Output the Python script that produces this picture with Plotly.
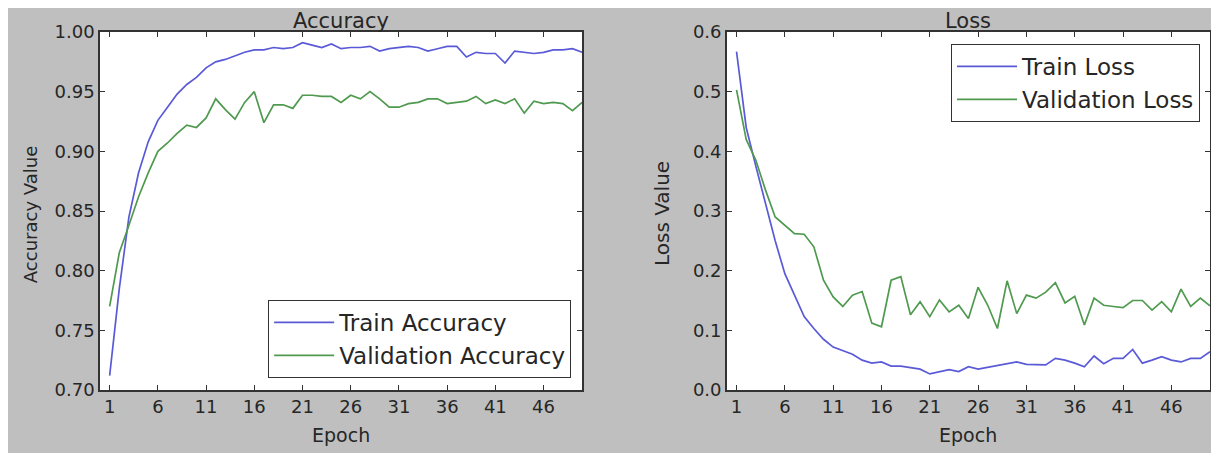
import plotly.graph_objects as go

# ---------------- data ----------------
epochs = list(range(1, 51))

train_acc = [0.712, 0.785, 0.845, 0.882, 0.908, 0.926, 0.937, 0.948, 0.956, 0.962,
             0.970, 0.975, 0.977, 0.980, 0.983, 0.985, 0.985, 0.987, 0.986, 0.987,
             0.991, 0.989, 0.987, 0.990, 0.986, 0.987, 0.987, 0.988, 0.984, 0.986,
             0.987, 0.988, 0.987, 0.984, 0.986, 0.988, 0.988, 0.979, 0.983, 0.982,
             0.982, 0.974, 0.984, 0.983, 0.982, 0.983, 0.985, 0.985, 0.986, 0.983]

val_acc = [0.770, 0.815, 0.838, 0.862, 0.882, 0.900, 0.907, 0.915, 0.922, 0.920,
           0.928, 0.944, 0.935, 0.927, 0.941, 0.950, 0.924, 0.939, 0.939, 0.936,
           0.947, 0.947, 0.946, 0.946, 0.941, 0.947, 0.944, 0.950, 0.944, 0.937,
           0.937, 0.940, 0.941, 0.944, 0.944, 0.940, 0.941, 0.942, 0.946, 0.940,
           0.943, 0.940, 0.944, 0.932, 0.942, 0.940, 0.941, 0.940, 0.934, 0.941]

train_loss = [0.567, 0.440, 0.375, 0.310, 0.250, 0.195, 0.160, 0.123, 0.103, 0.085,
              0.072, 0.066, 0.060, 0.050, 0.045, 0.047, 0.040, 0.040, 0.038, 0.035,
              0.027, 0.031, 0.034, 0.031, 0.039, 0.035, 0.038, 0.042, 0.044, 0.047,
              0.043, 0.042, 0.042, 0.053, 0.050, 0.045, 0.039, 0.057, 0.044, 0.053,
              0.053, 0.068, 0.045, 0.050, 0.056, 0.050, 0.047, 0.053, 0.053, 0.064]

val_loss = [0.503, 0.420, 0.385, 0.335, 0.290, 0.276, 0.262, 0.261, 0.240, 0.184,
            0.156, 0.140, 0.159, 0.165, 0.112, 0.106, 0.184, 0.190, 0.126, 0.148,
            0.123, 0.151, 0.131, 0.142, 0.120, 0.172, 0.142, 0.103, 0.183, 0.128,
            0.159, 0.154, 0.164, 0.180, 0.146, 0.157, 0.109, 0.154, 0.142, 0.140,
            0.138, 0.150, 0.150, 0.134, 0.148, 0.131, 0.169, 0.140, 0.154, 0.141]

x_ticks = [1, 6, 11, 16, 21, 26, 31, 36, 41, 46]
acc_ticks = [0.70, 0.75, 0.80, 0.85, 0.90, 0.95, 1.00]
acc_tick_text = ["0.70", "0.75", "0.80", "0.85", "0.90", "0.95", "1.00"]
loss_ticks = [0.0, 0.1, 0.2, 0.3, 0.4, 0.5, 0.6]
loss_tick_text = ["0.0", "0.1", "0.2", "0.3", "0.4", "0.5", "0.6"]

# ---------------- style ----------------
FONT = "DejaVu Sans"
TXT = "#262626"
AX = "#333333"
BLUE = "#5a5ad8"
GREEN = "#4f9a4f"

# the page body has an 8px margin, so the figure starts at screen (8, 8)
OFF = 8
W, H = 1219 - OFF, 453 - OFF
PLOT_L, PLOT_R, PLOT_T, PLOT_B = 100, 1212, 32, 390   # screen pixels
ML, MR, MT, MB = PLOT_L - OFF, 1219 - PLOT_R, PLOT_T - OFF, 453 - PLOT_B
PW = PLOT_R - PLOT_L
PH = PLOT_B - PLOT_T


def px(x):
    return (x - PLOT_L) / PW


def py(y):
    return (PLOT_B - y) / PH


fig = go.Figure()
fig.add_trace(go.Scatter(x=epochs, y=train_acc, name="Train Accuracy", mode="lines",
                         line=dict(color=BLUE, width=1.7), xaxis="x", yaxis="y",
                         legend="legend", legendgroup="ta"))
fig.add_trace(go.Scatter(x=epochs, y=val_acc, name="Validation Accuracy", mode="lines",
                         line=dict(color=GREEN, width=1.7), xaxis="x", yaxis="y",
                         legend="legend", legendgroup="va"))
fig.add_trace(go.Scatter(x=epochs, y=train_loss, name="Train Loss", mode="lines",
                         line=dict(color=BLUE, width=1.7), xaxis="x2", yaxis="y2",
                         legend="legend2", legendgroup="tl"))
fig.add_trace(go.Scatter(x=epochs, y=val_loss, name="Validation Loss", mode="lines",
                         line=dict(color=GREEN, width=1.7), xaxis="x2", yaxis="y2",
                         legend="legend2", legendgroup="vl"))

axis_common = dict(showline=True, linecolor=AX, linewidth=1.5, mirror="ticks",
                   ticks="inside", ticklen=5, tickwidth=1, tickcolor=AX,
                   showgrid=False, zeroline=False,
                   tickfont=dict(family=FONT, size=18, color=TXT))

fig.update_layout(
    width=W, height=H, autosize=False,
    margin=dict(l=ML, r=MR, t=MT, b=MB, pad=0),
    paper_bgcolor="#bfbfbf", plot_bgcolor="white",
    font=dict(family=FONT, color=TXT),
    xaxis=dict(domain=[0, px(583)], range=[0, 50], tickvals=x_ticks, anchor="y", **axis_common),
    yaxis=dict(domain=[0, 1], range=[0.70, 1.00], tickvals=acc_ticks, ticktext=acc_tick_text,
               anchor="x", **axis_common),
    xaxis2=dict(domain=[px(728), 1], range=[0, 50], tickvals=x_ticks, anchor="y2", **axis_common),
    yaxis2=dict(domain=[0, 1], range=[0, 0.6], tickvals=loss_ticks, ticktext=loss_tick_text,
                anchor="x2", **axis_common),
    legend=dict(x=px(572), xanchor="right", y=py(378), yanchor="bottom",
                bgcolor="white", bordercolor=AX, borderwidth=1, tracegroupgap=0,
                itemwidth=60,
                font=dict(family=FONT, size=23, color=TXT)),
    legend2=dict(x=px(1202), xanchor="right", y=py(44), yanchor="top",
                 bgcolor="white", bordercolor=AX, borderwidth=1, tracegroupgap=0,
                 itemwidth=60,
                 font=dict(family=FONT, size=23, color=TXT)),
    showlegend=True,
)

ann = [
    dict(text="Accuracy", x=px(341), y=py(21), size=21),
    dict(text="Loss", x=px(970), y=py(21), size=21),
    dict(text="Epoch", x=px(341), y=py(435), size=19),
    dict(text="Epoch", x=px(970), y=py(435), size=19),
]
for a in ann:
    fig.add_annotation(text=a["text"], x=a["x"], y=a["y"], xref="paper", yref="paper",
                       xanchor="center", yanchor="middle", showarrow=False,
                       font=dict(family=FONT, size=a["size"], color=TXT))

fig.add_annotation(text="Accuracy Value", x=px(30), y=py(215), xref="paper", yref="paper",
                   xanchor="center", yanchor="middle", showarrow=False, textangle=-90,
                   font=dict(family=FONT, size=18, color=TXT))
fig.add_annotation(text="Loss Value", x=px(663), y=py(213), xref="paper", yref="paper",
                   xanchor="center", yanchor="middle", showarrow=False, textangle=-90,
                   font=dict(family=FONT, size=20, color=TXT))

fig.write_html("out.html")
